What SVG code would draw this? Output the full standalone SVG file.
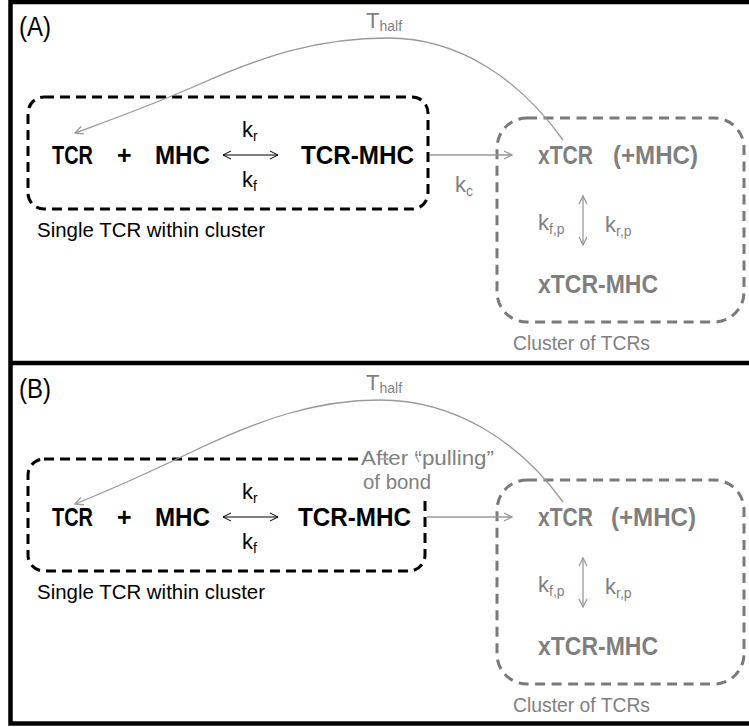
<svg xmlns="http://www.w3.org/2000/svg" width="749" height="727" viewBox="0 0 749 727">
  <style>
    .frame { fill: none; stroke: #000; stroke-width: 4.5; }
    .box { fill: none; stroke: #000; stroke-width: 3; stroke-dasharray: 10 6; }
    .gbox { fill: none; stroke: #7a7a7a; stroke-width: 3; stroke-dasharray: 10 6.5; }
    .lbl { font-family: "Liberation Sans", Arial, sans-serif; font-size: 27px; fill: #000; }
    .sp { font-family: "Liberation Sans", Arial, sans-serif; font-size: 25px; font-weight: bold; fill: #000; }
    .gsp { font-family: "Liberation Sans", Arial, sans-serif; font-size: 25px; font-weight: bold; fill: #7f7f7f; }
    .txt { font-family: "Liberation Sans", Arial, sans-serif; font-size: 21px; fill: #000; }
    .gtxt { font-family: "Liberation Sans", Arial, sans-serif; font-size: 21px; fill: #7f7f7f; }
    .k { font-family: "Liberation Sans", Arial, sans-serif; font-size: 22px; fill: #000; }
    .gk { font-family: "Liberation Sans", Arial, sans-serif; font-size: 22px; fill: #7f7f7f; }
    .sub { font-size: 14px; }
    .ln { fill: none; stroke: #000; stroke-width: 1; }
    .gln { fill: none; stroke: #999; stroke-width: 1.3; }
  </style>
  <defs>
    <marker id="headBlack" markerUnits="userSpaceOnUse" markerWidth="12" markerHeight="12" viewBox="-10 -6 12 12" refX="0" refY="0" orient="auto-start-reverse">
      <path d="M-8,-4 L0,0 L-8,4" fill="none" stroke="#000" stroke-width="1"/>
    </marker>
    <marker id="headGray" markerUnits="userSpaceOnUse" markerWidth="12" markerHeight="12" viewBox="-10 -6 12 12" refX="0" refY="0" orient="auto-start-reverse">
      <path d="M-8,-4 L0,0 L-8,4" fill="none" stroke="#999" stroke-width="1.3"/>
    </marker>
  </defs>

  <rect width="749" height="727" fill="#fff"/>

  <!-- outer frame and panel divider -->
  <g id="frame">
    <rect class="frame" x="10.5" y="2" width="760" height="721.5"/>
    <line class="frame" x1="10" y1="363" x2="749" y2="363"/>
  </g>

  <!-- ===== panel A ===== -->
  <g id="panelA">
    <text class="lbl" x="19" y="36" textLength="32" lengthAdjust="spacingAndGlyphs">(A)</text>

    <g id="a-single">
      <rect class="box" x="28" y="97" width="400" height="112" rx="16"/>
      <text class="txt" x="37" y="237" textLength="228" lengthAdjust="spacingAndGlyphs">Single TCR within cluster</text>
    </g>
    <g id="a-tcr"><text class="sp" x="52" y="164" textLength="41" lengthAdjust="spacingAndGlyphs">TCR</text></g>
    <g id="a-plus"><text class="sp" x="117" y="164">+</text></g>
    <g id="a-mhc"><text class="sp" x="155" y="164" textLength="55" lengthAdjust="spacingAndGlyphs">MHC</text></g>
    <g id="a-complex"><text class="sp" x="301" y="164" textLength="113" lengthAdjust="spacingAndGlyphs">TCR-MHC</text></g>

    <g id="a-cluster">
      <rect class="gbox" x="497" y="118" width="247" height="204" rx="30"/>
      <text class="gtxt" x="513" y="350" textLength="137" lengthAdjust="spacingAndGlyphs">Cluster of TCRs</text>
    </g>
    <g id="a-xtcr">
      <text class="gsp" x="538" y="164" textLength="55" lengthAdjust="spacingAndGlyphs">xTCR</text>
      <text class="gsp" x="613" y="164" textLength="85" lengthAdjust="spacingAndGlyphs">(+MHC)</text>
    </g>
    <g id="a-xcomplex"><text class="gsp" x="538" y="293" textLength="120" lengthAdjust="spacingAndGlyphs">xTCR-MHC</text></g>

    <g id="a-connectors">
      <line class="ln" x1="223" y1="155" x2="278" y2="155" marker-start="url(#headBlack)" marker-end="url(#headBlack)"/>
      <line class="gln" x1="430" y1="155" x2="512" y2="155" marker-end="url(#headGray)"/>
      <line class="gln" x1="583" y1="196" x2="583" y2="245" marker-start="url(#headGray)" marker-end="url(#headGray)"/>
      <path class="gln" d="M563,140 C520,80 460,38 388,38 C320,38 265,55 200,84 C150,106 110,120 75,133" marker-end="url(#headGray)"/>

      <text class="k" x="242" y="137">k<tspan class="sub" dy="4">r</tspan></text>
      <text class="k" x="242" y="187">k<tspan class="sub" dy="4">f</tspan></text>
      <text class="gk" x="455" y="192">k<tspan class="sub" dy="4">c</tspan></text>
      <text class="gk" x="538" y="230">k<tspan class="sub" dy="4">f,p</tspan></text>
      <text class="gk" x="605" y="232">k<tspan class="sub" dy="4">r,p</tspan></text>
      <text class="gk" x="366" y="28" font-size="19">T<tspan class="sub" dy="3" font-size="12">half</tspan></text>
    </g>
  </g>

  <!-- ===== panel B ===== -->
  <g id="panelB">
    <text class="lbl" x="19" y="398" textLength="32" lengthAdjust="spacingAndGlyphs">(B)</text>

    <g id="b-single">
      <rect class="box" x="28" y="459" width="397" height="112" rx="16"/>
      <text class="txt" x="37" y="599" textLength="228" lengthAdjust="spacingAndGlyphs">Single TCR within cluster</text>
    </g>
    <g id="b-tcr"><text class="sp" x="52" y="526" textLength="41" lengthAdjust="spacingAndGlyphs">TCR</text></g>
    <g id="b-plus"><text class="sp" x="117" y="526">+</text></g>
    <g id="b-mhc"><text class="sp" x="155" y="526" textLength="55" lengthAdjust="spacingAndGlyphs">MHC</text></g>
    <g id="b-complex"><text class="sp" x="298" y="526" textLength="113" lengthAdjust="spacingAndGlyphs">TCR-MHC</text></g>

    <!-- note over the corner of the single-TCR box -->
    <g id="b-note">
      <rect x="358" y="446" width="142" height="54" fill="#fff"/>
      <text class="gtxt" x="361" y="465" textLength="133" lengthAdjust="spacingAndGlyphs">After “pulling”</text>
      <text class="gtxt" x="363" y="489" textLength="68" lengthAdjust="spacingAndGlyphs">of bond</text>
      <path d="M380,459 L390,459 M416,456 L419,462" fill="none" stroke="#aaa" stroke-width="1.5"/>
    </g>

    <g id="b-cluster">
      <rect class="gbox" x="497" y="480" width="247" height="204" rx="30"/>
      <text class="gtxt" x="513" y="712" textLength="137" lengthAdjust="spacingAndGlyphs">Cluster of TCRs</text>
    </g>
    <g id="b-xtcr">
      <text class="gsp" x="538" y="526" textLength="55" lengthAdjust="spacingAndGlyphs">xTCR</text>
      <text class="gsp" x="611" y="526" textLength="85" lengthAdjust="spacingAndGlyphs">(+MHC)</text>
    </g>
    <g id="b-xcomplex"><text class="gsp" x="538" y="655" textLength="120" lengthAdjust="spacingAndGlyphs">xTCR-MHC</text></g>

    <g id="b-connectors">
      <line class="ln" x1="223" y1="517" x2="278" y2="517" marker-start="url(#headBlack)" marker-end="url(#headBlack)"/>
      <line class="gln" x1="427" y1="517" x2="512" y2="517" marker-end="url(#headGray)"/>
      <line class="gln" x1="583" y1="558" x2="583" y2="607" marker-start="url(#headGray)" marker-end="url(#headGray)"/>
      <path class="gln" d="M563,502 C520,442 455,400 380,400 C315,400 260,420 200,448 C150,472 110,490 75,504" marker-end="url(#headGray)"/>

      <text class="k" x="242" y="499">k<tspan class="sub" dy="4">r</tspan></text>
      <text class="k" x="242" y="549">k<tspan class="sub" dy="4">f</tspan></text>
      <text class="gk" x="538" y="592">k<tspan class="sub" dy="4">f,p</tspan></text>
      <text class="gk" x="605" y="594">k<tspan class="sub" dy="4">r,p</tspan></text>
      <text class="gk" x="366" y="390" font-size="19">T<tspan class="sub" dy="3" font-size="12">half</tspan></text>
    </g>
  </g>
</svg>
